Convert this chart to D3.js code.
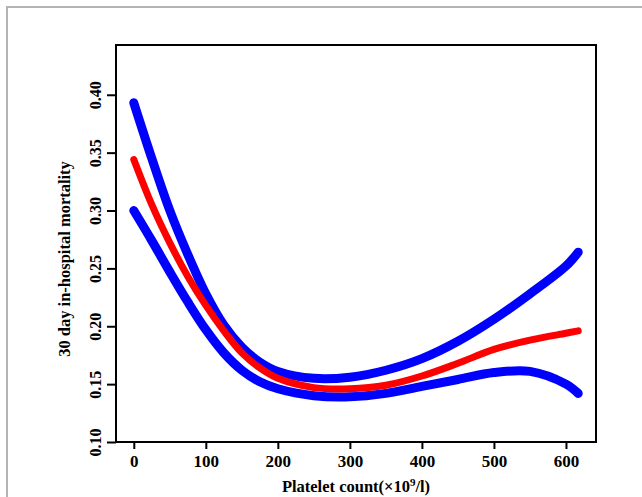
<!DOCTYPE html>
<html>
<head>
<meta charset="utf-8">
<script src="https://cdn.jsdelivr.net/npm/d3@7"></script>
<style>
  body { margin: 0; background: #fff; }
  svg, svg text { font-family: "Liberation Serif", "DejaVu Serif", serif; font-weight: bold; }
</style>
</head>
<body>
<script>
// platelet count (x10^9/l)
const platelets = [0, 25, 50, 75, 100, 125, 150, 175, 200, 250, 300, 350, 400, 450, 500, 550, 600, 617]
// predicted 30 day mortality and 95% CI
const estimate = [0.344, 0.305, 0.272, 0.243, 0.218, 0.196, 0.177, 0.164, 0.155, 0.147, 0.146, 0.149, 0.157, 0.168, 0.180, 0.188, 0.194, 0.196]
const upperCI  = [0.393, 0.345, 0.300, 0.262, 0.228, 0.201, 0.182, 0.169, 0.161, 0.155, 0.156, 0.162, 0.172, 0.187, 0.206, 0.228, 0.252, 0.264]
const lowerCI  = [0.300, 0.274, 0.247, 0.221, 0.197, 0.177, 0.162, 0.152, 0.146, 0.140, 0.139, 0.142, 0.148, 0.154, 0.160, 0.161, 0.150, 0.142]
const xTicks = [0, 100, 200, 300, 400, 500, 600]
const yTicks = [0.10, 0.15, 0.20, 0.25, 0.30, 0.35, 0.40]

const width = 642
const height = 497
const box = { left: 116, right: 596, top: 45, bottom: 442 }

const svg = d3.select('body').append('svg')
  .attr('width', width)
  .attr('height', height)

// outer grey frame
svg.append('rect')
  .attr('x', 7).attr('y', 7)
  .attr('width', 700).attr('height', 600)
  .style('fill', 'none')
  .style('stroke', '#b4b4b4')
  .style('stroke-width', 2)

const x = d3.scaleLinear()
  .domain([-24.7, 641.7])
  .range([box.left, box.right])
const y = d3.scaleLinear()
  .domain([0.10, 0.443])
  .range([box.bottom, box.top])

const line = (vals) => d3.line()
  .x((d, i) => x(platelets[i]))
  .y(d => y(d))
  .curve(d3.curveCatmullRom.alpha(0.5))(vals)

const curves = [
  { vals: upperCI, color: '#0000ff', w: 9 },
  { vals: lowerCI, color: '#0000ff', w: 9 },
  { vals: estimate, color: '#ff0000', w: 7 }
]
svg.selectAll('.curve')
  .data(curves)
  .enter()
  .append('path')
    .attr('class', 'curve')
    .attr('d', d => line(d.vals))
    .style('fill', 'none')
    .style('stroke', d => d.color)
    .style('stroke-width', d => d.w)
    .style('stroke-linecap', 'round')
    .style('stroke-linejoin', 'round')

// plot box
svg.append('rect')
  .attr('x', box.left).attr('y', box.top)
  .attr('width', box.right - box.left)
  .attr('height', box.bottom - box.top)
  .style('fill', 'none')
  .style('stroke', '#000')
  .style('stroke-width', 2)

const xAxis = svg.append('g')
  .attr('transform', `translate(0,${box.bottom})`)
  .call(d3.axisBottom(x).tickValues(xTicks).tickSize(7).tickPadding(6).tickSizeOuter(0).tickFormat(d3.format('d')))
xAxis.attr('font-family', null).attr('font-size', null)
xAxis.select('.domain').remove()
xAxis.selectAll('line').style('stroke-width', 2)
xAxis.selectAll('text').style('font-size', '17px').attr('fill', '#000')

const yAxis = svg.append('g')
  .attr('transform', `translate(${box.left},0)`)
  .call(d3.axisLeft(y).tickValues(yTicks).tickSize(9).tickFormat(d3.format('.2f')))
yAxis.attr('font-family', null).attr('font-size', null)
yAxis.select('.domain').remove()
yAxis.selectAll('line').style('stroke-width', 2)
yAxis.selectAll('text')
  .attr('x', null).attr('dy', null)
  .attr('text-anchor', 'middle')
  .attr('transform', 'translate(-15,0) rotate(-90)')
  .style('font-size', '16px')
  .attr('fill', '#000')

const xTitle = svg.append('text')
  .attr('x', (box.left + box.right) / 2)
  .attr('y', 492)
  .attr('text-anchor', 'middle')
  .style('font-size', '16.5px')
xTitle.append('tspan').text('Platelet count(×10')
xTitle.append('tspan').attr('dy', -6).style('font-size', '11px').text('9')
xTitle.append('tspan').attr('dy', 6).text('/l)')

svg.append('text')
  .attr('transform', 'translate(70,259) rotate(-90)')
  .attr('text-anchor', 'middle')
  .style('font-size', '16.5px')
  .text('30 day in-hospital mortality')
</script>
</body>
</html>
